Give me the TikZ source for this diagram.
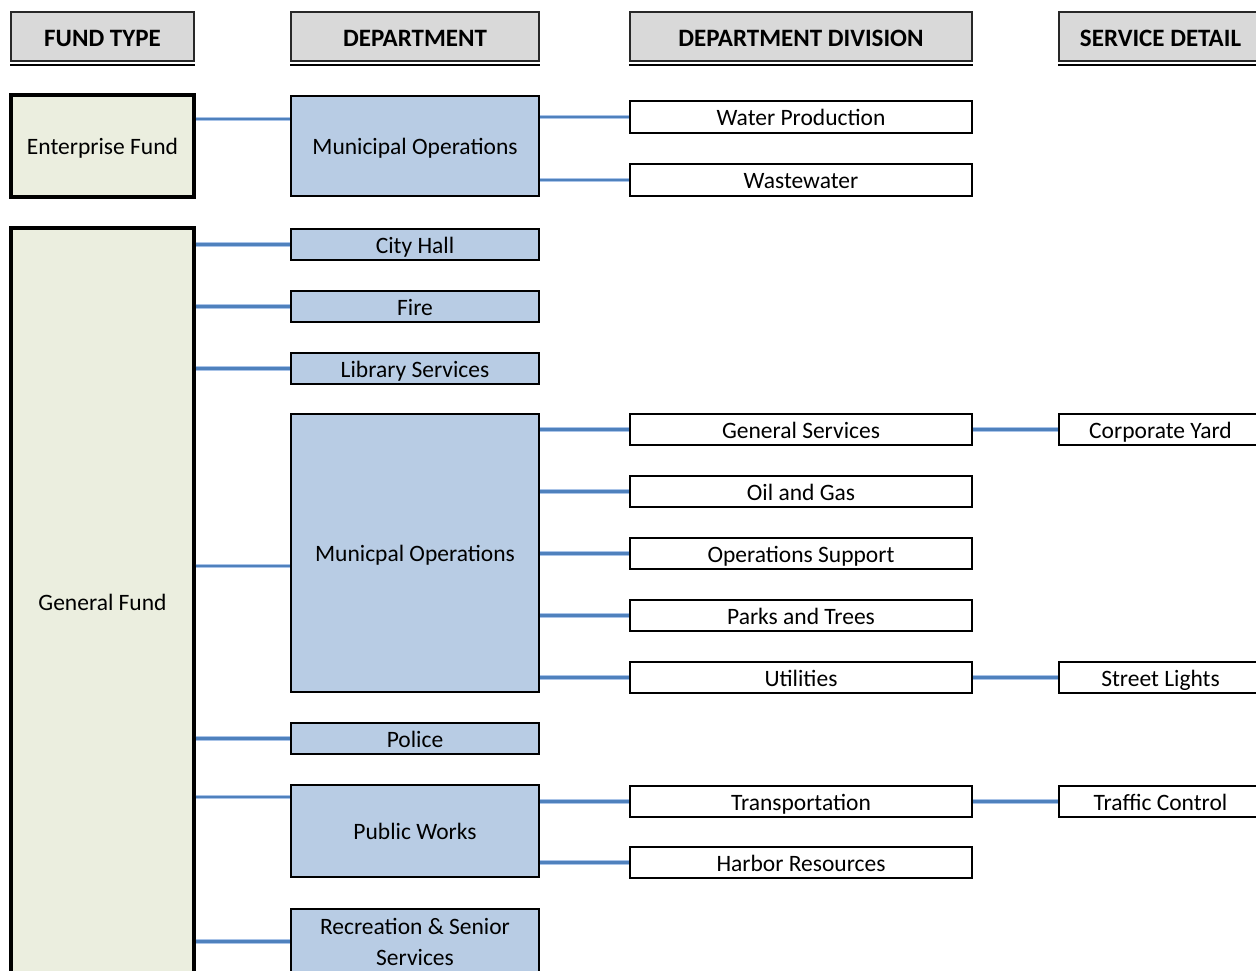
\documentclass[tikz,border=0pt]{standalone}
\usepackage{fontspec}
\setmainfont{Carlito}
\definecolor{hdrline}{RGB}{40,40,40}
\definecolor{hdrfill}{RGB}{217,217,217}
\definecolor{fundfill}{RGB}{235,238,223}
\definecolor{deptfill}{RGB}{184,204,228}
\definecolor{connblue}{RGB}{79,129,189}
\definecolor{connlight}{RGB}{170,196,232}
\begin{document}
\begin{tikzpicture}[x=1pt,y=-1pt,
  base/.style={rectangle, inner sep=0pt, font=\fontsize{23.5}{31}\selectfont, text=black, text height=19pt, text depth=2pt},
  hdr/.style={base, draw=hdrline, line width=1.6pt, fill=hdrfill, minimum height=49pt, font=\fontsize{25}{28}\selectfont\bfseries, text height=21pt, text depth=2pt},
  fundbox/.style={base, draw=black, line width=3.2pt, fill=fundfill, minimum width=183pt},
  deptbox/.style={base, draw=black, line width=2pt, fill=deptfill, minimum width=248pt},
  divbox/.style={base, draw=black, line width=2pt, fill=white, minimum width=342pt, minimum height=31pt},
  svcbox/.style={base, draw=black, line width=2pt, fill=white, minimum width=203pt, minimum height=31pt},
  conn/.style={draw=connblue, line width=2.4pt,
     preaction={draw=connlight, line width=4.6pt}}
]
\useasboundingbox[fill=white] (0,0) rectangle (1256,970);

% headers
\node[hdr, minimum width=183pt] (h1) at (102.5,36.5) {FUND TYPE};
\node[hdr, minimum width=248pt] (h2) at (415,36.5) {DEPARTMENT};
\node[hdr, minimum width=342pt] (h3) at (801,36.5) {DEPARTMENT DIVISION};
\node[hdr, minimum width=203pt] (h4) at (1160.5,36.5) {SERVICE DETAIL};
\foreach \h in {h1,h2,h3,h4}{
  \draw[line width=1.4pt, black] ([yshift=-3pt]\h.south west) -- ([yshift=-3pt]\h.south east);
}

% fund boxes
\node[fundbox, minimum height=102pt] (ef) at (102.5,146) {Enterprise Fund};
\node[fundbox, minimum height=747pt] (gf) at (102.5,601.5) {General Fund};

% departments
\node[deptbox, minimum height=100pt] (mo1) at (415,146) {Municipal Operations};
\node[deptbox, minimum height=31pt] (ch) at (415,244.5) {City Hall};
\node[deptbox, minimum height=31pt] (fire) at (415,306.5) {Fire};
\node[deptbox, minimum height=31pt] (lib) at (415,368.5) {Library Services};
\node[deptbox, minimum height=278pt] (mo2) at (415,553) {Municpal Operations};
\node[deptbox, minimum height=31pt] (pol) at (415,738.5) {Police};
\node[deptbox, minimum height=92pt] (pw) at (415,831) {Public Works};
\node[deptbox, minimum height=65pt, align=center, text height=, text depth=] (rec) at (415,941.5) {Recreation \& Senior\\Services};

% divisions
\node[divbox, minimum height=32pt] (wp) at (801,117) {Water Production};
\node[divbox, minimum height=32pt] (ww) at (801,180) {Wastewater};
\node[divbox] (gs) at (801,429.5) {General Services};
\node[divbox] (og) at (801,491.5) {Oil and Gas};
\node[divbox] (os) at (801,553.5) {Operations Support};
\node[divbox] (pt) at (801,615.5) {Parks and Trees};
\node[divbox] (ut) at (801,677.5) {Utilities};
\node[divbox] (tr) at (801,801.5) {Transportation};
\node[divbox] (hr) at (801,862.5) {Harbor Resources};

% service details
\node[svcbox] (cy) at (1160.5,429.5) {Corporate Yard};
\node[svcbox] (sl) at (1160.5,677.5) {Street Lights};
\node[svcbox] (tc) at (1160.5,801.5) {Traffic Control};

% connectors fund -> department
\draw[conn] (ef.east |- 0,119) -- ([yshift=27pt]mo1.west);
\foreach \t in {ch,fire,lib,pol,rec}{
  \draw[conn] (gf.east |- \t.west) -- (\t.west);
}
\draw[conn] (gf.east |- 0,566) -- ([yshift=-13pt]mo2.west);
\draw[conn] (gf.east |- 0,797) -- ([yshift=34pt]pw.west);

% department -> division
\foreach \t in {wp,ww}{ \draw[conn] (mo1.east |- \t.west) -- (\t.west); }
\foreach \t in {gs,og,os,pt,ut}{ \draw[conn] (mo2.east |- \t.west) -- (\t.west); }
\foreach \t in {tr,hr}{ \draw[conn] (pw.east |- \t.west) -- (\t.west); }

% division -> service
\draw[conn] (gs.east) -- (cy.west);
\draw[conn] (ut.east) -- (sl.west);
\draw[conn] (tr.east) -- (tc.west);
\end{tikzpicture}
\end{document}
